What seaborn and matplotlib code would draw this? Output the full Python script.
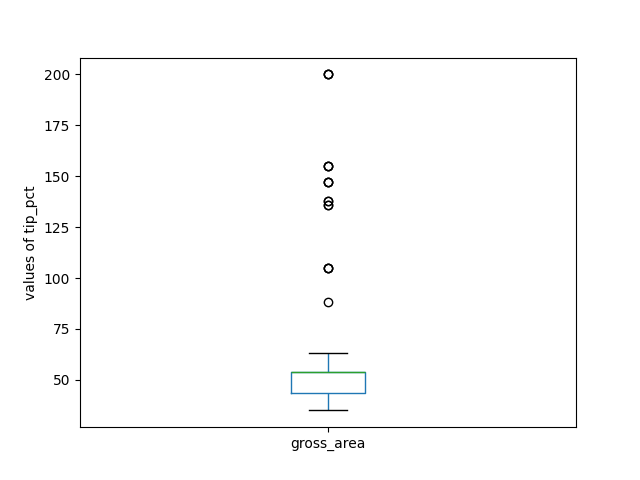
import matplotlib
matplotlib.use('Agg')
import matplotlib.pyplot as plt
import seaborn as sns
import numpy as np
import pandas as pd

# values, with how often each occurs
column_name = 'gross_area'
values = [35, 38, 41, 43.6, 48, 54, 58, 63, 88, 105, 136, 138, 147, 155, 200]
counts = [1, 8, 7, 9, 5, 31, 1, 1, 1, 3, 2, 2, 3, 3, 3]

data = pd.DataFrame({
    'variable': column_name,
    'value': np.repeat(values, counts),
})

fig, ax = plt.subplots(figsize=(6.4, 4.8), dpi=100)

sns.boxplot(data=data, x='variable', y='value', ax=ax,
            width=0.15, fill=False, color='#1f77b4', linewidth=1, whis=1.5,
            boxprops={'color': '#1f77b4'},
            whiskerprops={'color': '#1f77b4'},
            medianprops={'color': '#2ca02c'},
            capprops={'color': 'k'},
            flierprops={'marker': 'o', 'markerfacecolor': 'none',
                        'markeredgecolor': 'k', 'markersize': 6})

ax.set_xlabel('')
ax.set_ylabel('values of tip_pct')

plt.savefig('out.png', dpi=100)
